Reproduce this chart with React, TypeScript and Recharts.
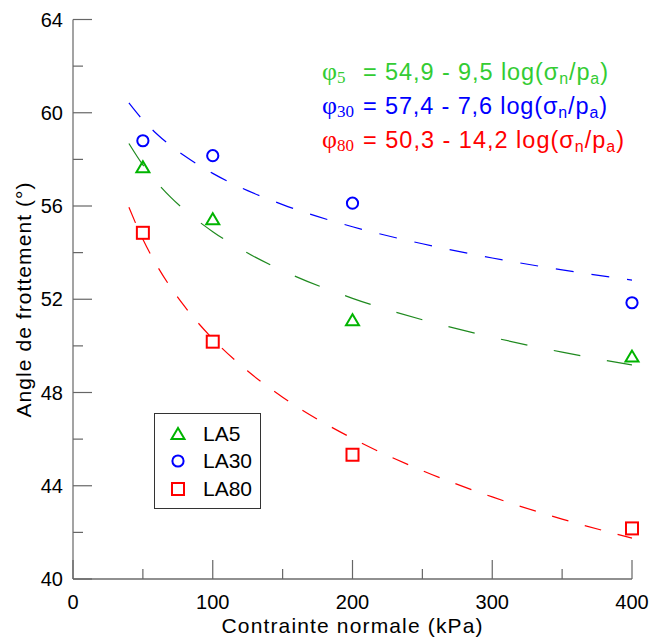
import React from "react";
import { ComposedChart, XAxis, YAxis, Scatter, Line, Legend } from "recharts";

// ---- data ----
const pressures = [50, 100, 200, 400];
const la5 = [57.66, 55.43, 51.1, 49.54];
const la30 = [58.8, 58.16, 56.12, 51.85];
const la80 = [54.85, 50.18, 45.33, 42.17];

const fitX = [40, 50, 60, 70, 80, 100, 125, 150, 200, 250, 300, 350, 400];
const fitLA5 = [58.68, 57.76, 57.01, 56.37, 55.82, 54.9, 53.98, 53.23, 52.04, 51.12, 50.37, 49.73, 49.18];
const fitLA30 = [60.42, 59.69, 59.09, 58.58, 58.14, 57.4, 56.66, 56.06, 55.11, 54.38, 53.77, 53.26, 52.82];
const fitLA80 = [55.95, 54.57, 53.45, 52.5, 51.68, 50.3, 48.92, 47.8, 46.03, 44.65, 43.52, 42.57, 41.75];

const xTicks = [0, 50, 100, 150, 200, 250, 300, 350, 400];
const yTicks = [40, 42, 44, 46, 48, 50, 52, 54, 56, 58, 60, 62, 64];

const seriesNames = ["LA5", "LA30", "LA80"];
const xTitle = "Contrainte normale (kPa)";
const yTitle = "Angle de frottement (°)";

const toPoints = (xs: number[], ys: number[]) => xs.map((x, i) => ({ x, y: ys[i] }));

const GREEN_MK = "#00b400";
const GREEN_LN = "#1f8a1f";
const GREEN_TX = "#33cc33";
const BLUE = "#0000ff";
const RED = "#ff0000";
const SANS = "'Liberation Sans', Arial, sans-serif";
const SERIF = "'Liberation Serif', 'Times New Roman', serif";

const Tri = (p: any) => {
  const { cx, cy } = p;
  if (cx == null || cy == null) return null;
  return (
    <polygon
      points={`${cx},${cy - 6} ${cx - 6.5},${cy + 5} ${cx + 6.5},${cy + 5}`}
      fill="none"
      stroke={GREEN_MK}
      strokeWidth={2}
    />
  );
};
const Circ = (p: any) => {
  const { cx, cy } = p;
  if (cx == null || cy == null) return null;
  return <circle cx={cx} cy={cy} r={5.6} fill="none" stroke={BLUE} strokeWidth={2} />;
};
const Sq = (p: any) => {
  const { cx, cy } = p;
  if (cx == null || cy == null) return null;
  return <rect x={cx - 6} y={cy - 6} width={12} height={12} fill="none" stroke={RED} strokeWidth={2} />;
};

const YTick = (props: any) => {
  const { x, y, payload } = props;
  const major = payload.value % 4 === 0;
  return (
    <g>
      <line x1={x} x2={x + (major ? 19 : 10)} y1={y} y2={y} stroke="#666" strokeWidth={1.2} />
      {major && (
        <text x={x - 10} y={y + 7} textAnchor="end" fontSize={20} fontFamily={SANS} fill="#000">
          {payload.value}
        </text>
      )}
    </g>
  );
};

const XTick = (props: any) => {
  const { x, y, payload } = props;
  const major = payload.value % 100 === 0;
  return (
    <g>
      <line x1={x} x2={x} y1={y} y2={y - (major ? 19 : 10)} stroke="#666" strokeWidth={1.2} />
      {major && (
        <text x={x} y={y + 30} textAnchor="middle" fontSize={20} fontFamily={SANS} fill="#000">
          {payload.value}
        </text>
      )}
    </g>
  );
};

const LegendBox = () => {
  const rows = [
    { name: seriesNames[0], y: 21, kind: "tri" },
    { name: seriesNames[1], y: 48, kind: "circ" },
    { name: seriesNames[2], y: 76, kind: "sq" },
  ];
  return (
    <svg width={108} height={97} style={{ display: "block" }}>
      <rect x={0.5} y={0.5} width={106} height={95} fill="#fff" stroke="#333" strokeWidth={1} />
      {rows.map((r) => (
        <g key={r.name}>
          {r.kind === "tri" && <Tri cx={24} cy={r.y} />}
          {r.kind === "circ" && <Circ cx={24} cy={r.y} />}
          {r.kind === "sq" && <Sq cx={24} cy={r.y} />}
          <text x={49} y={r.y + 7} fontSize={21} fontFamily={SANS} fill="#000">
            {r.name}
          </text>
        </g>
      ))}
    </svg>
  );
};

const Equation = ({ y, color, sub, body, len }: any) => (
  <g fill={color}>
    <text x={322} y={y} fontSize={26} fontFamily={SERIF}>
      φ
      <tspan fontSize={17} dy={3}>
        {sub}
      </tspan>
    </text>
    <text x={363} y={y} fontSize={23.5} fontFamily={SANS} textLength={len} lengthAdjust="spacing">
      {body}
      <tspan>log(σ</tspan>
      <tspan fontSize={16} dy={4}>n</tspan>
      <tspan dy={-4}>/p</tspan>
      <tspan fontSize={16} dy={4}>a</tspan>
      <tspan dy={-4}>)</tspan>
    </text>
  </g>
);

export default function App() {
  return (
    <div style={{ position: "absolute", left: 0, top: 0, width: 650, height: 641, background: "#fff" }}>
      <ComposedChart width={650} height={641} margin={{ top: 19.5, right: 18, bottom: 0, left: 0 }}>
        <XAxis
          type="number"
          dataKey="x"
          domain={[0, 400]}
          ticks={xTicks}
          interval={0}
          height={62}
          tickSize={0}
          tickMargin={0}
          tickLine={false}
          axisLine={{ stroke: "#222", strokeWidth: 1.2 }}
          tick={<XTick />}
        />
        <YAxis
          type="number"
          dataKey="y"
          domain={[40, 64]}
          ticks={yTicks}
          interval={0}
          width={73}
          tickSize={0}
          tickMargin={0}
          tickLine={false}
          axisLine={{ stroke: "#666", strokeWidth: 1.2 }}
          tick={<YTick />}
        />
        <Line
          data={toPoints(fitX, fitLA5)}
          dataKey="y"
          type="monotone"
          stroke={GREEN_LN}
          strokeWidth={1.2}
          strokeDasharray="27 27"
          dot={false}
          activeDot={false}
          legendType="none"
          isAnimationActive={false}
        />
        <Line
          data={toPoints(fitX, fitLA30)}
          dataKey="y"
          type="monotone"
          stroke={BLUE}
          strokeWidth={1.2}
          strokeDasharray="18 18"
          dot={false}
          activeDot={false}
          legendType="none"
          isAnimationActive={false}
        />
        <Line
          data={toPoints(fitX, fitLA80)}
          dataKey="y"
          type="monotone"
          stroke={RED}
          strokeWidth={1.2}
          strokeDasharray="17 17"
          dot={false}
          activeDot={false}
          legendType="none"
          isAnimationActive={false}
        />
        <Scatter name={seriesNames[0]} data={toPoints(pressures, la5)} dataKey="y" shape={<Tri />} isAnimationActive={false} />
        <Scatter name={seriesNames[1]} data={toPoints(pressures, la30)} dataKey="y" shape={<Circ />} isAnimationActive={false} />
        <Scatter name={seriesNames[2]} data={toPoints(pressures, la80)} dataKey="y" shape={<Sq />} isAnimationActive={false} />
        <Legend
          layout="vertical"
          align="center"
          verticalAlign="middle"
          content={() => <LegendBox />}
          wrapperStyle={{ left: 154, top: 413, width: 108, height: 97, bottom: "auto", right: "auto" }}
        />
      </ComposedChart>
      <svg
        width={650}
        height={641}
        style={{ position: "absolute", left: 0, top: 0, pointerEvents: "none" }}
      >
        <text x={352} y={633} fontSize={21} fontFamily={SANS} textAnchor="middle" textLength={261} lengthAdjust="spacing" fill="#000">
          {xTitle}
        </text>
        <text
          x={31}
          y={300}
          transform="rotate(-90 31 300)"
          fontSize={21}
          fontFamily={SANS}
          textAnchor="middle"
          textLength={235}
          lengthAdjust="spacing"
          fill="#000"
        >
          {yTitle}
        </text>
        <Equation y={80} color={GREEN_TX} sub={"5"} body={"= 54,9 - 9,5 "} len={245} />
        <Equation y={114} color={BLUE} sub={"30"} body={"= 57,4 - 7,6 "} len={244} />
        <Equation y={148} color={RED} sub={"80"} body={"= 50,3 - 14,2 "} len={261} />
      </svg>
    </div>
  );
}
